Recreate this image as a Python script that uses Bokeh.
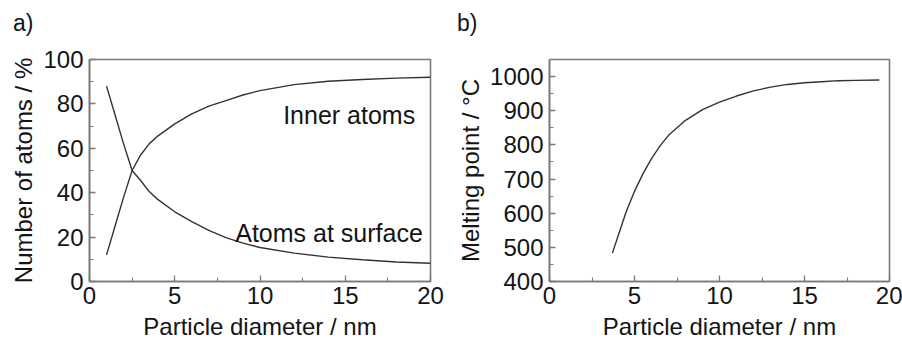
from bokeh.plotting import figure
from bokeh.layouts import row, column
from bokeh.models import FixedTicker, Label, Range1d, Div
from bokeh.embed import file_html
from bokeh.resources import INLINE

# ---- data: panel a ----
diam_a = [1, 1.5, 2, 2.5, 3, 3.5, 4, 5, 6, 7, 8, 9, 10, 12, 14, 16, 18, 20]
inner_atoms = [12, 25, 38, 50, 57, 62, 65.5, 71, 75.5, 79, 81.5, 84, 86, 88.7, 90.2, 91, 91.6, 92]
surface_atoms = [88, 75, 62, 50, 45.5, 40.5, 37, 31.4, 27, 23, 19.8, 17.3, 15.3, 12.8, 11, 9.8, 8.8, 8.2]

# ---- data: panel b ----
diam_b = [3.7, 4.0, 4.5, 5, 5.5, 6, 6.5, 7, 8, 9, 10, 11, 12, 13, 14, 15, 16, 17, 18, 19.4]
melting_point = [483, 528, 603, 664, 716, 760, 797, 828, 872, 903, 925, 943, 958, 969, 977, 982, 985, 988, 989, 990]

x_major = [0, 5, 10, 15, 20]
x_minor = [2.5, 7.5, 12.5, 17.5]
ya_major = [0, 20, 40, 60, 80, 100]
ya_minor = [10, 30, 50, 70, 90]
yb_major = [400, 500, 600, 700, 800, 900, 1000]
yb_minor = [450, 550, 650, 750, 850, 950, 1050]

FONT = "Liberation Sans"
TXT = "#141414"
FRAME = "#7a7a7a"
LINE = "#333333"


def style(p, xlabel, ylabel, ymaj, ymin):
    p.xaxis.ticker = FixedTicker(ticks=x_major, minor_ticks=x_minor)
    p.yaxis.ticker = FixedTicker(ticks=ymaj, minor_ticks=ymin)
    p.xgrid.visible = False
    p.ygrid.visible = False
    p.outline_line_color = FRAME
    p.outline_line_width = 1.6
    for ax in (p.xaxis, p.yaxis):
        ax.axis_line_color = FRAME
        ax.axis_line_width = 1.6
        ax.major_tick_in = 6
        ax.major_tick_out = 0
        ax.minor_tick_in = 4
        ax.minor_tick_out = 0
        ax.major_tick_line_color = FRAME
        ax.minor_tick_line_color = FRAME
        ax.major_tick_line_width = 1.3
        ax.minor_tick_line_width = 1.1
        ax.major_label_text_font = FONT
        ax.major_label_text_font_size = "24px"
        ax.major_label_text_color = TXT
        ax.axis_label_text_font = FONT
        ax.axis_label_text_font_size = "24px"
        ax.axis_label_text_font_style = "normal"
        ax.axis_label_text_color = TXT
    p.xaxis.axis_label = xlabel
    p.yaxis.axis_label = ylabel
    p.xaxis.major_label_standoff = 5
    p.xaxis.axis_label_standoff = 6
    p.yaxis.major_label_standoff = 6
    p.yaxis.axis_label_standoff = 3


def letter(txt, width, pad_left):
    html = ('<div style="padding:12px 0 0 %dpx;font-family:\'Liberation Sans\';'
            'font-size:23px;line-height:23px;color:%s">%s</div>' % (pad_left, TXT, txt))
    return Div(text=html, width=width, height=40, margin=(0, 0, 0, 0))


pa = figure(width=450, height=302, output_backend="svg", toolbar_location=None,
            x_range=Range1d(0, 20), y_range=Range1d(0, 100), margin=(0, 0, 0, 0),
            min_border_left=89, min_border_right=20, min_border_top=19, min_border_bottom=60)
style(pa, "Particle diameter / nm", "Number of atoms / %", ya_major, ya_minor)
pa.line(diam_a, inner_atoms, line_color=LINE, line_width=1.4)
pa.line(diam_a, surface_atoms, line_color=LINE, line_width=1.4)
pa.add_layout(Label(x=19.1, y=74.8, text="Inner atoms", text_align="right",
                    text_baseline="alphabetic", text_font=FONT, text_font_size="25px",
                    text_color=TXT))
pa.add_layout(Label(x=19.55, y=21.8, text="Atoms at surface", text_align="right",
                    text_baseline="alphabetic", text_font=FONT, text_font_size="25px",
                    text_color=TXT))

pb = figure(width=452, height=302, output_backend="svg", toolbar_location=None,
            x_range=Range1d(0, 20), y_range=Range1d(400, 1050), margin=(0, 0, 0, 0),
            min_border_left=99, min_border_right=13, min_border_top=19, min_border_bottom=61)
style(pb, "Particle diameter / nm", "Melting point / °C", yb_major, yb_minor)
pb.line(diam_b, melting_point, line_color=LINE, line_width=1.4)

layout = row(column(letter("a)", 450, 13), pa, spacing=0),
             column(letter("b)", 452, 7), pb, spacing=0), spacing=0)
open("out.html", "w").write(file_html(layout, INLINE))
